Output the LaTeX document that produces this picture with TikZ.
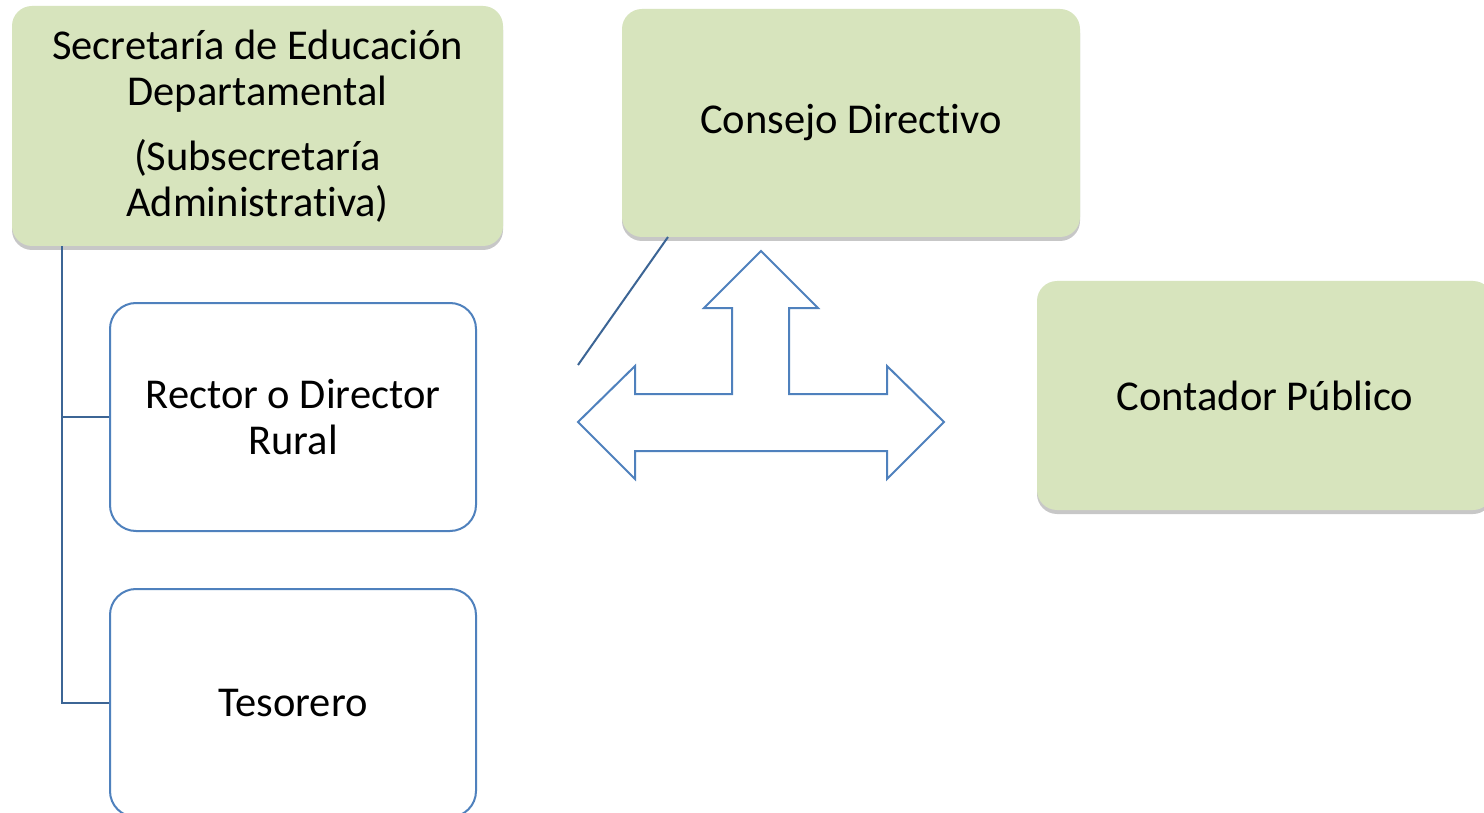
\documentclass[tikz,border=0pt]{standalone}
\usepackage{fontspec}
\setmainfont{Carlito}[Ligatures=NoCommon]
\usetikzlibrary{shadows}
\definecolor{boxgreen}{HTML}{D7E4BD}
\definecolor{boxblue}{HTML}{4F81BD}
\definecolor{linkblue}{HTML}{3C6595}
\begin{document}
\begin{tikzpicture}[x=1pt,y=-1pt,
  greenbox/.style={rectangle, rounded corners=20pt, fill=boxgreen, draw=none,
    drop shadow={shadow xshift=0pt, shadow yshift=-4pt, fill=black, opacity=0.22},
    align=center, inner sep=0pt, font=\fontsize{42.5}{46}\selectfont},
  whitebox/.style={rectangle, rounded corners=26pt, fill=white, draw=boxblue, line width=2pt,
    align=center, inner sep=0pt, font=\fontsize{42.5}{46}\selectfont},
  link/.style={draw=linkblue, line width=2pt},
  bigarrow/.style={draw=boxblue, line width=2pt, fill=white, line join=miter}]
\useasboundingbox (0,0) rectangle (1484,813);
\clip (0,0) rectangle (1484,813);
\fill[white] (0,0) rectangle (1484,813);
% green boxes
\node[greenbox, minimum width=491pt, minimum height=240pt] (sec) at (257.5,126)
  {Secretaría de Educación\\Departamental\\[19pt](Subsecretaría\\Administrativa)};
\node[greenbox, minimum width=458pt, minimum height=228pt] (con) at (851,123) {Consejo Directivo};
\node[greenbox, minimum width=456pt, minimum height=229pt] (cont) at (1265,395.5) {Contador Público};
% white boxes
\node[whitebox, minimum width=366pt, minimum height=228pt] (rec) at (293,417) {Rector o Director\\Rural};
\node[whitebox, minimum width=366pt, minimum height=228pt] (tes) at (293,703) {Tesorero};
% connectors
\coordinate (trunk) at (62,703);
\draw[link] (sec.south -| 62,0) -- (trunk) -- (tes.west);
\draw[link] (62,417) -- (rec.west);
\coordinate (diagend) at (578,365);
\draw[link] (668,237) -- (diagend);
% three-way arrow
\draw[bigarrow] (578,422) -- (635,366) -- (635,394) -- (732,394) -- (732,308) -- (704,308)
  -- (761,251) -- (818,308) -- (789,308) -- (789,394) -- (887,394) -- (887,366)
  -- (944,422) -- (887,479) -- (887,451) -- (635,451) -- (635,479) -- cycle;
\end{tikzpicture}
\end{document}
